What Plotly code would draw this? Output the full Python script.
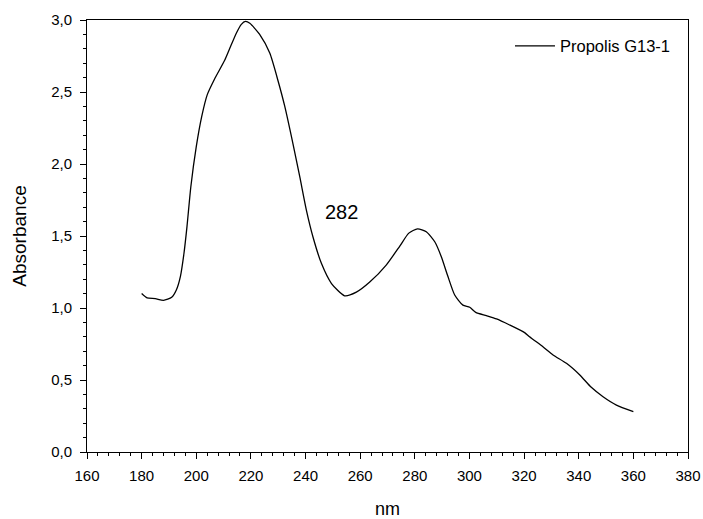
import plotly.graph_objects as go

wavelength = [180, 182, 185, 188, 191, 192.7, 194.2, 195.5, 196.6, 198, 200, 202, 204, 206.7,
              210.4, 212.2, 214.7, 216.5, 218, 219.6, 223.2, 226.9, 229.9, 232.4, 235.4, 237.9,
              240.3, 242.7, 245.8, 249.5, 254.3, 258.6, 263.5, 269.6, 274.5, 277.8, 281, 284.2,
              287.3, 289.7, 292.1, 294.6, 297.6, 300.1, 302.3, 306.2, 309.9, 314.7, 320.2, 322,
              326.9, 330.6, 335.5, 340.4, 344.6, 348.9, 353.8, 360]
absorbance = [1.10, 1.07, 1.065, 1.053, 1.074, 1.125, 1.22, 1.38, 1.565, 1.84, 2.12, 2.33, 2.48, 2.59,
              2.72, 2.80, 2.91, 2.97, 2.99, 2.977, 2.90, 2.77, 2.58, 2.40, 2.14, 1.91,
              1.68, 1.495, 1.31, 1.17, 1.085, 1.11, 1.18, 1.30, 1.43, 1.52, 1.55, 1.53,
              1.46, 1.356, 1.22, 1.09, 1.02, 1.005, 0.97, 0.947, 0.924, 0.882, 0.829, 0.80,
              0.731, 0.674, 0.616, 0.535, 0.449, 0.384, 0.326, 0.28]
series_name = "Propolis G13-1"
peak_label = "282"
peak_label_pos = (253.2, 1.667)

FONT = "Liberation Sans, Arial, sans-serif"

fig = go.Figure()
fig.add_trace(go.Scatter(x=wavelength, y=absorbance, mode="lines", name=series_name,
                         line=dict(color="black", width=1.3, shape="spline", smoothing=0.6)))

fig.add_annotation(x=peak_label_pos[0], y=peak_label_pos[1], text=peak_label, showarrow=False,
                   font=dict(family=FONT, size=20, color="black"))

axis_common = dict(showline=True, linecolor="black", linewidth=1, mirror=True,
                   ticks="outside", ticklen=6, tickwidth=1, tickcolor="black",
                   showgrid=False, zeroline=False, automargin=False,
                   tickfont=dict(family=FONT, size=15, color="black"))

fig.update_xaxes(range=[160, 380], dtick=20, tick0=160, ticklabelstandoff=4,
                 title=dict(text="nm", font=dict(family=FONT, size=18, color="black"), standoff=24),
                 minor=dict(ticks="outside", dtick=4, ticklen=3, tickcolor="black", tickwidth=1),
                 **axis_common)
fig.update_yaxes(range=[0, 3.0], dtick=0.5, tick0=0, tickformat=".1f", ticklabelstandoff=5,
                 title=dict(text="Absorbance", font=dict(family=FONT, size=19, color="black"), standoff=19),
                 minor=dict(ticks="outside", dtick=0.1, ticklen=3, tickcolor="black", tickwidth=1),
                 **axis_common)

fig.update_layout(width=703, height=519, plot_bgcolor="white", paper_bgcolor="white",
                  margin=dict(l=87, r=15, t=20, b=67), separators=", ",
                  font=dict(family=FONT, color="black"),
                  legend=dict(x=0.98, y=0.98, xanchor="right", yanchor="top", itemwidth=40,
                              bgcolor="rgba(0,0,0,0)", font=dict(family=FONT, size=16.5, color="black")),
                  showlegend=True)

fig.write_html("out.html", config={"displayModeBar": False},
               post_script="document.body.style.margin='0';document.body.style.overflow='hidden';")
